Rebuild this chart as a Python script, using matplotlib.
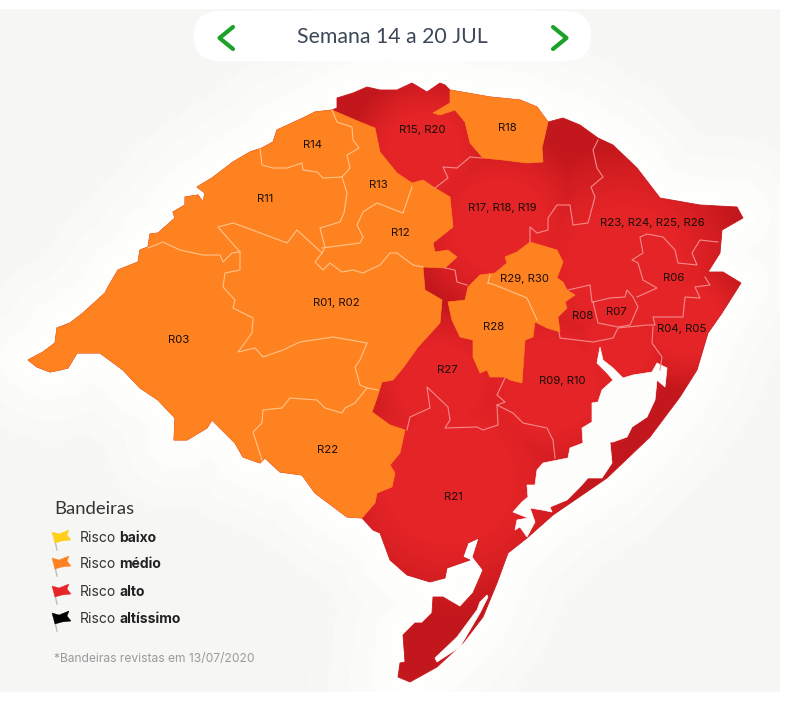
import numpy as np
import matplotlib
matplotlib.use('Agg')
import matplotlib.pyplot as plt
from matplotlib.patches import Polygon, FancyBboxPatch, Rectangle
from matplotlib.colors import to_rgb

# === Contours (pixels of the map) ===
coast_nw = [(28,360),(43,352),(55,343),(57,328),(70,323),(83,313),(105,293),(108,287),(118,270),(138,262),
            (140,250),(148,247),(150,234),(158,233),(175,218),(173,212),(185,205),(185,197),(198,195),(203,202),
            (205,193),(197,187),(212,178),(233,162),(250,152),(262,148),(273,142),(277,130),(303,118),(315,112),(332,110)]
coast_north = [(337,108),(337,98),(353,93),(367,87),(380,90),(397,90),(412,83),(427,92),(440,83),(445,85),(450,90),
               (490,97),(520,100),(537,107),(548,122),(563,118),(580,125),(598,138),(613,145),(637,168),(660,198),
               (700,205),(737,207),(743,218),(722,230),(720,253),(708,272),(723,272),(741,283)]
coast_se = [(722,313),(708,333),(697,370),(680,397),(650,437),(607,478),(553,515),(527,538),(508,553),(497,583),(483,617),
            (463,643),(437,667),(410,682),(398,677),(400,663),(405,662),(403,635),(415,623),(422,623),(432,613),
            (433,597),(443,597),(460,607),(473,593),(483,570),(473,557),(479,538),(468,543),(463,557),(470,560),
            (447,568),(445,578),(430,582),(407,575),(390,560),(380,533),(373,530),(362,518)]
coast_sw = [(347,517),(315,493),(302,475),(280,472),(265,458),(260,463),(243,457),(235,443),(227,435),(212,420),
            (207,428),(187,440),(174,440),(175,418),(158,400),(140,388),(123,370),(100,353),(77,353),(68,368),
            (60,370),(50,372),(37,367)]
orange_east = [(360,122),(375,128),(380,152),(397,173),(412,183),(423,180),(435,188),(450,197),(453,227),(433,243),
               (435,252),(448,250),(457,257),(445,268),(423,267),(425,290),(442,300),(440,323),(418,347),(403,368),
               (393,380),(382,382),(377,398),(372,412),(390,425),(405,430),(400,453),(390,465),(395,473),(392,487),
               (377,493),(375,503),(362,518)]
orange_r18 = [(450,90),(490,97),(520,100),(537,107),(548,122),(545,135),(542,148),(543,162),(527,163),(503,160),
              (483,158),(470,143),(465,122),(455,110),(440,115),(433,113),(450,103)]
orange_r28 = [(517,252),(530,242),(557,250),(563,262),(557,278),(563,282),(567,290),(575,295),(565,302),(567,308),
              (558,317),(560,332),(547,328),(535,322),(533,337),(525,340),(522,383),(510,380),(505,377),(490,377),
              (487,370),(480,373),(473,357),(473,340),(460,337),(452,320),(448,302),(465,300),(468,287),(480,275),
              (495,273),(507,263),(505,257)]
lagoa_patos = [(600,347),(603,360),(613,368),(623,378),(633,375),(652,372),(657,363),(667,368),(665,387),(657,380),
               (655,400),(647,417),(632,427),(627,437),(613,442),(610,442),(612,463),(602,478),(588,478),(580,487),
               (567,500),(550,507),(552,512),(542,510),(530,508),(535,522),(527,537),(520,527),(515,530),(517,520),
               (528,518),(513,512),(522,502),(528,497),(527,485),(535,485),(537,470),(543,463),(568,458),(570,448),
               (583,443),(582,428),(592,422),(592,403),(598,402),(602,390),(613,380),(607,373),(597,363)]
lagoa_mangueira = [(487,595),(480,602),(477,610),(457,637),(435,658),(437,662),(460,647),(480,613),(488,597)]

# === Frontieres ===
bord_orange = [
    [(260,148),(262,165),(273,168),(287,168),(302,163),(303,170),(317,172),(323,178),(342,177),(350,168),(347,155),(359,148),(353,140),(352,127),(337,122),(332,110)],
    [(342,177),(347,193),(344,213),(340,222),(320,228),(325,247),(322,253)],
    [(322,248),(360,243),(363,237),(357,225),(363,212),(377,203),(403,213),(412,187)],
    [(322,253),(297,230),(287,243),(247,228),(233,223),(218,227),(240,252),(240,270),(225,273),(223,287),(235,300),(233,308),(253,318),(252,333),(238,352),(255,348),(263,357),(283,350),(300,342),(333,337),(367,343),(360,360),(355,367),(360,385),(367,388),(378,390)],
    [(148,248),(163,242),(180,250),(203,255),(220,255),(223,262),(232,253),(240,252)],
    [(322,253),(315,262),(323,270),(330,263),(342,272),(353,270),(363,273),(380,265),(390,253),(397,253),(413,265),(423,267)],
    [(262,460),(253,432),(262,423),(263,410),(282,408),(290,398),(317,400),(325,408),(342,413),(345,408),(355,403),(367,388)],
    [(488,283),(495,285),(527,298),(537,320)],
    [(490,275),(488,283)],
]
bord_rouge = [
    [(435,188),(448,178),(443,167),(457,168),(470,157),(482,158)],
    [(598,140),(593,150),(597,168),(603,177),(591,187),(595,197),(588,223),(573,225),(570,205),(557,205),(548,218),(548,230),(537,233),(530,227),(530,242)],
    [(445,268),(455,270),(457,282),(467,285)],
    [(559,332),(560,338),(593,342),(613,338),(618,328),(647,325),(655,325),(653,317),(683,317),(685,297),(700,298),(695,287),(710,285),(705,277)],
    [(653,327),(652,343),(662,357),(660,370)],
    [(593,302),(598,323),(618,327),(630,325),(638,307),(633,297),(627,290),(625,297),(610,298),(593,302)],
    [(568,290),(590,285),(592,302)],
    [(637,297),(657,288),(643,280),(638,263),(632,260),(643,253),(640,237),(647,234),(663,237),(675,250),(678,263),(697,265),(692,253),(700,240),(718,242)],
    [(407,430),(410,417),(430,408),(427,387),(448,407),(450,420),(445,428),(477,427),(483,430),(498,425),(497,405),(513,413),(523,423),(547,428),(553,440),(555,458)],
    [(505,378),(497,395),(505,402),(497,405)],
]

# === Textes ===
labels = ["R14","R11","R13","R12","R01, R02","R03","R22","R15, R20","R18","R17, R18, R19",
          "R23, R24, R25, R26","R29, R30","R06","R07","R08","R28","R04, R05","R27","R09, R10","R21"]
labels_x = [312,265,378,400,336,179,328,422,507,502,652,525,674,616,583,494,682,447,562,453]
labels_y = [145,199,185,233,303,340,450,130,128,208,223,279,278,312,316,327,329,370,381,497]
niveaux = ["baixo","médio","alto","altíssimo"]
couleurs_niveaux = ["#ffcf1a","#ff8120","#e52528","#000000"]
niveaux_y = [538,564,592,619]

fig = plt.figure(figsize=(8,7.09), dpi=100)
ax = fig.add_axes([0,0,1,1])
ax.axis('off')

panneau = Rectangle((0,9), 780, 683, facecolor="#f6f6f4", edgecolor="none", zorder=0)
ax.add_patch(panneau)

etat = coast_nw + coast_north + coast_se + coast_sw
orange = coast_nw + orange_east + coast_sw

# halo blanc autour de la carte
for lw, a in [(130,0.18),(100,0.25),(70,0.35),(40,0.5),(20,0.6)]:
    halo = Polygon(etat, closed=True, facecolor="none", edgecolor="white", lw=lw, alpha=a, joinstyle='round', zorder=1)
    ax.add_patch(halo)
    halo.set_clip_path(panneau)

# degrade du rouge : clair au centre des zones, sombre vers les bords
xx, yy = np.meshgrid(np.arange(800)+0.5, np.arange(709)+0.5)
centres = [(425,150,60),(500,225,75),(625,265,95),(685,320,55),(450,480,105),(550,385,75),(440,385,65),(620,345,50)]
t = np.zeros(xx.shape)
for cx, cy, r in centres:
    t = np.maximum(t, np.clip(1.3-((xx-cx)**2+(yy-cy)**2)/r**2*0.8, 0, 1))
c1, c2 = np.array(to_rgb("#c2171c")), np.array(to_rgb("#e42427"))
img = c1 + (c2-c1)*t[...,None]
im = ax.imshow(img, extent=(0,800,709,0), zorder=2, aspect='auto')
ax.set_xlim(0,800)
ax.set_ylim(709,0)
im.set_clip_path(Polygon(etat, closed=True, transform=ax.transData))
ax.add_patch(Polygon(etat, closed=True, facecolor="none", edgecolor="#c9191f", lw=0.6, zorder=2))

for contour in [orange, orange_r18, orange_r28]:
    ax.add_patch(Polygon(contour, closed=True, facecolor="#ff8221", edgecolor="#ff8221", lw=0.5, zorder=3))

for lagoa in [lagoa_patos, lagoa_mangueira]:
    ax.add_patch(Polygon(lagoa, closed=True, facecolor="#fdfdfc", edgecolor="#fdfdfc", lw=0.5, zorder=4))

for b in bord_orange:
    ax.plot(*zip(*b), color="#ffc48c", lw=0.8, zorder=5, solid_joinstyle='round')
for b in bord_rouge:
    ax.plot(*zip(*b), color="#f58a8a", lw=0.8, zorder=5, solid_joinstyle='round')

for s, x, y in zip(labels, labels_x, labels_y):
    ax.text(x, y, s, ha='center', va='center', fontsize=8.2, family='Inter', color="#1a0c06", zorder=6)

# === Bandeau semaine ===
ax.add_patch(FancyBboxPatch((194,11), 397, 50, boxstyle="round,pad=0,rounding_size=25",
                            facecolor="white", edgecolor="none", zorder=6))
ax.text(392.5, 37, "Semana 14 a 20 JUL", ha='center', va='center', fontsize=15.3, family='Lato', color="#3d4757", zorder=7)
ax.plot([233,219.5,233], [27,38,49], color="#1ca22a", lw=3, solid_capstyle='round', zorder=7)
ax.plot([553,566.5,553], [27,38,49], color="#1ca22a", lw=3, solid_capstyle='round', zorder=7)

# === Legende ===
ax.text(54, 509, "Bandeiras", ha='left', va='center', fontsize=13.3, family='Lato', color="#333333", zorder=7)
forme = np.array([(0,0),(7,2),(17,-2),(15,3),(19,8),(10,9),(3,11)])
for niveau, coul, y in zip(niveaux, couleurs_niveaux, niveaux_y):
    ax.plot([55,57], [y+3,y+12], color="#bbbbbb", lw=1, zorder=6)
    ax.add_patch(Polygon(forme+[52,y-6], closed=True, facecolor=coul, edgecolor=coul, lw=0.3, zorder=7))
    ax.text(80, y, "Risco", ha='left', va='center', fontsize=10, family='Inter', color="#333333", zorder=7)
    ax.text(119.5, y, niveau, ha='left', va='center', fontsize=10, family='Inter', weight='bold', color="#222222", zorder=7)
ax.text(54, 659, "*Bandeiras revistas em 13/07/2020", ha='left', va='center', fontsize=8.7, family='Inter', color="#9a9a9a", zorder=7)

fig.savefig("out.png", dpi=100, facecolor="white")
